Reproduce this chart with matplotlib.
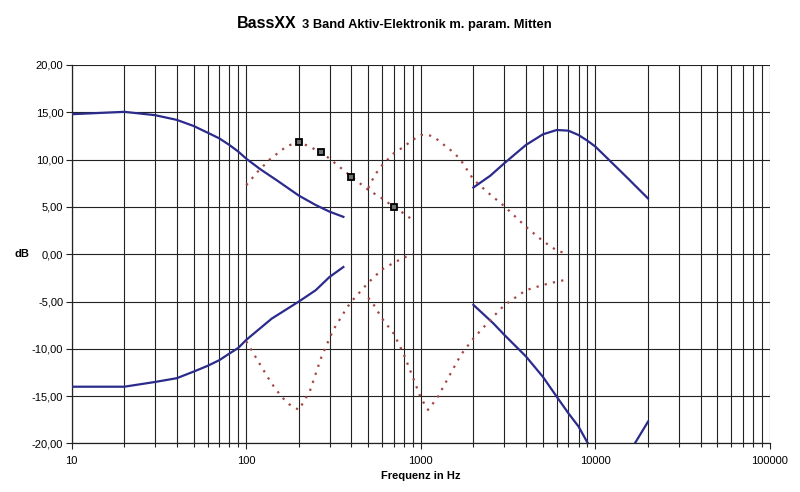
import matplotlib.pyplot as plt
from matplotlib.ticker import FixedLocator, FuncFormatter, NullFormatter

# Frequenzgaenge (Hz / dB)
bass_boost_f = [10, 20, 30, 40, 50, 60, 70, 80, 90, 100, 120, 150, 200, 250, 300, 360]
bass_boost_db = [14.8, 15.05, 14.7, 14.2, 13.55, 12.85, 12.25, 11.55, 10.85, 10.1, 9.0, 7.8, 6.2, 5.2, 4.5, 3.95]

bass_cut_f = [10, 20, 30, 40, 50, 60, 70, 80, 90, 100, 140, 200, 250, 300, 360]
bass_cut_db = [-14.0, -14.0, -13.5, -13.1, -12.4, -11.8, -11.2, -10.5, -9.9, -9.05, -6.8, -5.0, -3.8, -2.4, -1.35]

treble_boost_f = [2000, 2500, 3000, 4000, 5000, 6000, 7000, 8000, 9000, 10000, 15000, 20000]
treble_boost_db = [7.05, 8.3, 9.6, 11.55, 12.67, 13.13, 13.06, 12.6, 12.0, 11.37, 8.2, 5.9]

treble_cut_f = [2000, 2600, 3000, 4000, 5000, 6000, 7000, 8000, 9000, 10000, 12500, 15000, 17000, 20000]
treble_cut_db = [-5.35, -7.3, -8.5, -10.8, -12.95, -15.05, -16.8, -18.2, -19.9, -20.9, -22.0, -21.5, -19.85, -17.7]

# Mitten (param.)
lowmid_boost_f = [100, 116, 136, 170, 200, 267, 300, 400, 500, 600, 700, 800, 900]
lowmid_boost_db = [7.3, 8.7, 10.0, 11.4, 11.9, 10.8, 10.1, 8.2, 6.8, 5.9, 5.0, 4.3, 3.6]
marked = [4, 5, 7, 10]

lowmid_cut_f = [100, 116, 139, 159, 176, 200, 231, 270, 315, 376, 400, 500, 600, 700, 800, 900]
lowmid_cut_db = [-9.2, -11.2, -13.6, -15.05, -15.85, -16.45, -14.5, -10.8, -8.0, -5.7, -5.0, -3.0, -1.6, -0.9, -0.35, 0.0]

himid_boost_f = [500, 546, 600, 700, 800, 900, 1000, 1100, 1200, 1300, 1400, 1560, 1700, 2000, 2500, 3000, 4000, 5000, 6000, 7000]
himid_boost_db = [7.0, 8.4, 9.4, 10.67, 11.37, 12.1, 12.6, 12.62, 12.36, 11.8, 11.37, 10.67, 9.9, 7.9, 6.3, 5.1, 2.9, 1.4, 0.4, 0.0]

himid_cut_f = [500, 540, 600, 700, 800, 900, 1000, 1100, 1250, 1450, 1700, 2000, 2600, 3000, 4000, 5000, 6000, 7000]
himid_cut_db = [-4.6, -5.4, -6.8, -8.4, -10.6, -13.0, -15.2, -16.45, -15.1, -12.9, -10.6, -8.9, -6.6, -5.4, -3.8, -3.25, -2.9, -2.65]

blue = '#2b2b8c'
red = '#a54444'
dots = (0, (1, 2.8))

fig = plt.figure(figsize=(8, 4.92), dpi=100)
ax = fig.add_axes([0.0896, 0.0986, 0.8729, 0.7693])

for f, db in [(bass_boost_f, bass_boost_db), (bass_cut_f, bass_cut_db),
              (treble_boost_f, treble_boost_db), (treble_cut_f, treble_cut_db)]:
    ax.plot(f, db, color=blue, lw=1.6, zorder=3)

for f, db in [(lowmid_cut_f, lowmid_cut_db), (himid_boost_f, himid_boost_db),
              (himid_cut_f, himid_cut_db)]:
    ax.plot(f, db, color=red, lw=1.6, ls=dots, zorder=3)
ax.plot(lowmid_boost_f, lowmid_boost_db, color=red, lw=1.6, ls=dots, zorder=3,
        marker='s', markevery=marked, ms=5, mfc='#707070', mec='black', mew=1.3)

ax.set_xscale('log')
ax.set_xlim(10, 100000)
ax.set_ylim(-20, 20)

ax.xaxis.set_major_locator(FixedLocator([10, 100, 1000, 10000, 100000]))
ax.xaxis.set_minor_locator(FixedLocator([m * 10**e for e in range(1, 5) for m in range(2, 10)]))
ax.xaxis.set_major_formatter(FuncFormatter(lambda v, p: '%d' % v))
ax.xaxis.set_minor_formatter(NullFormatter())
ax.yaxis.set_major_locator(FixedLocator(range(-20, 21, 5)))
ax.yaxis.set_major_formatter(FuncFormatter(lambda v, p: ('%.2f' % v).replace('.', ',')))

ax.grid(True, which='both', axis='x', color='#222222', lw=0.8)
ax.grid(True, which='major', axis='y', color='#222222', lw=0.8)
ax.set_axisbelow(True)

for s in ['top', 'right']:
    ax.spines[s].set_visible(False)
for s in ['left', 'bottom']:
    ax.spines[s].set_color('#222222')
    ax.spines[s].set_linewidth(0.9)

font = ['Liberation Sans Narrow', 'Liberation Sans', 'DejaVu Sans']
tickfont = ['Liberation Sans', 'DejaVu Sans']
ax.tick_params(axis='both', which='both', direction='out', color='#222222', width=0.8)
ax.tick_params(axis='y', length=4, pad=2, labelsize=8)
ax.tick_params(axis='x', which='major', length=4, pad=5, labelsize=8)
ax.tick_params(axis='x', which='minor', length=3)
for lab in ax.get_xticklabels() + ax.get_yticklabels():
    lab.set_family(tickfont)

fig.text(296 / 800, 1 - 28 / 492, 'BassXX', ha='right', va='baseline',
         fontsize=11.5, fontweight='bold', family=font)
fig.text(302 / 800, 1 - 28 / 492, '3 Band Aktiv-Elektronik m. param. Mitten', ha='left',
         va='baseline', fontsize=9.3, fontweight='bold', family=font)
fig.text(22 / 800, 1 - 254 / 492, 'dB', ha='center', va='center',
         fontsize=8, fontweight='bold', family=tickfont)
fig.text(421 / 800, 1 - 476 / 492, 'Frequenz in Hz', ha='center', va='center',
         fontsize=8, fontweight='bold', family=tickfont)

fig.savefig('out.png', dpi=100)
